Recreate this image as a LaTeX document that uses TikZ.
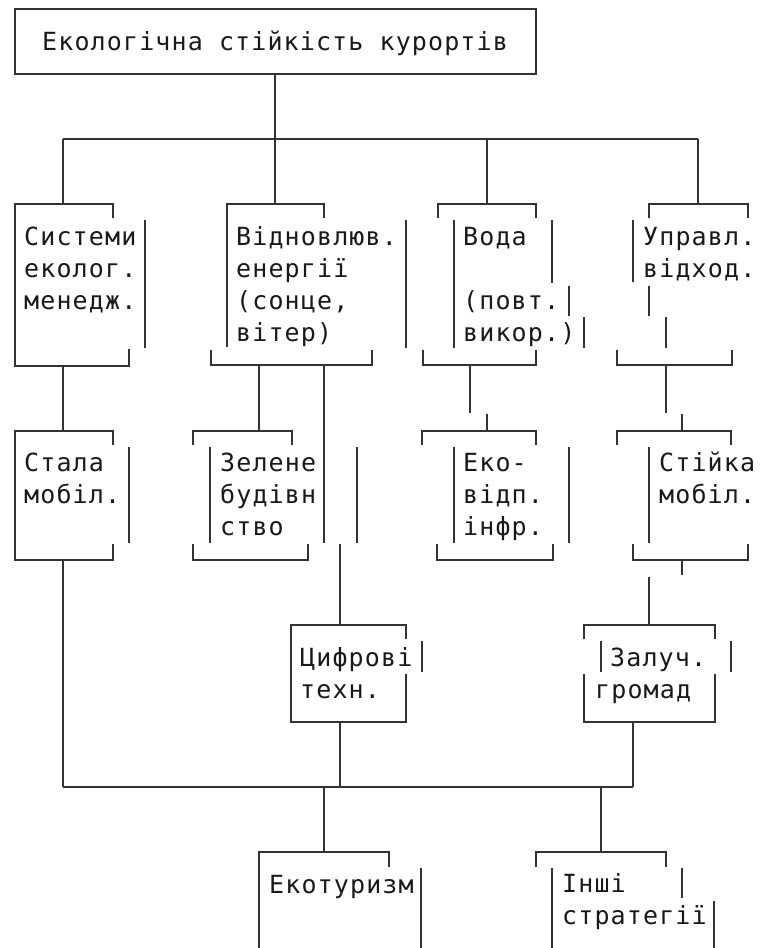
\documentclass[tikz,border=0pt]{standalone}
\usepackage{fontspec}
\usepackage{xcolor}
\usepackage{tikz}
\newfontfamily\monofont[LetterSpace=4.5]{DejaVu Sans Mono}

\begin{document}
\begin{tikzpicture}[x=1pt,y=1pt]
	\tikzstyle{every node}+=[inner sep=0pt, anchor=base west, font=\monofont\fontsize{25}{32}\selectfont, text=black!90]
	\tikzstyle{wire}=[black!80, line width=1.3pt]
	\useasboundingbox (0,0) rectangle (760,-948);
	% top
	\draw [wire] (15,-9) rectangle (536,-74);
	\draw (42,-50) node (top) {Екологічна стійкість курортів};
	\draw [wire] (275,-74) -- (275,-139);
	\draw [wire] (63,-139) -- (698,-139);
	\draw [wire] (63,-139) -- (63,-204);
	\draw [wire] (275,-139) -- (275,-204);
	\draw [wire] (487,-139) -- (487,-204);
	\draw [wire] (698,-139) -- (698,-204);
	% row 1
	\draw [wire] (113,-218) -- (113,-204) -- (15,-204) -- (15,-366) -- (129,-366) -- (129,-349);
	\draw [wire] (145,-220) -- (145,-348);
	\draw (24,-245) node (sys1) {Системи};
	\draw (24,-277) node (sys2) {еколог.};
	\draw (24,-309) node (sys3) {менедж.};
	\draw [wire] (63,-366) -- (63,-431);
	\draw [wire] (324,-218) -- (324,-204) -- (227,-204) -- (227,-347);
	\draw [wire] (406,-220) -- (406,-348);
	\draw [wire] (211,-350) -- (211,-365) -- (372,-365) -- (372,-350);
	\draw (236,-245) node (ren1) {Відновлюв.};
	\draw (236,-277) node (ren2) {енергії};
	\draw (236,-309) node (ren3) {(сонце,};
	\draw (236,-341) node (ren4) {вітер)};
	\draw [wire] (259,-365) -- (259,-431);
	\draw [wire] (324,-365) -- (324,-543);
	\draw [wire] (438,-218) -- (438,-204) -- (536,-204) -- (536,-218);
	\draw [wire] (454,-220) -- (454,-348);
	\draw [wire] (552,-220) -- (552,-283);
	\draw [wire] (569,-286) -- (569,-316);
	\draw [wire] (584,-317) -- (584,-348);
	\draw [wire] (423,-350) -- (423,-365) -- (536,-365) -- (536,-350);
	\draw (463,-245) node (wat1) {Вода};
	\draw (463,-309) node (wat2) {(повт.};
	\draw (463,-341) node (wat3) {викор.)};
	\draw [wire] (470,-365) -- (470,-413);
	\draw [wire] (487,-414) -- (487,-431);
	\draw [wire] (649,-218) -- (649,-204) -- (748,-204) -- (748,-218);
	\draw [wire] (633,-220) -- (633,-282);
	\draw [wire] (649,-286) -- (649,-316);
	\draw [wire] (666,-317) -- (666,-348);
	\draw [wire] (617,-350) -- (617,-365) -- (732,-365) -- (732,-350);
	\draw (643,-245) node (was1) {Управл.};
	\draw (643,-277) node (was2) {відход.};
	\draw [wire] (666,-365) -- (666,-413);
	\draw [wire] (682,-414) -- (682,-431);
	% row 2
	\draw [wire] (113,-445) -- (113,-431) -- (15,-431) -- (15,-560) -- (113,-560) -- (113,-544);
	\draw [wire] (129,-447) -- (129,-543);
	\draw (24,-471) node (mob1) {Стала};
	\draw (24,-503) node (mob2) {мобіл.};
	\draw [wire] (63,-560) -- (63,-787);
	\draw [wire] (193,-445) -- (193,-431) -- (292,-431) -- (292,-445);
	\draw [wire] (210,-447) -- (210,-543);
	\draw [wire] (357,-447) -- (357,-543);
	\draw [wire] (193,-544) -- (193,-560) -- (308,-560) -- (308,-544);
	\draw (220,-471) node (grn1) {Зелене};
	\draw (220,-503) node (grn2) {будівн};
	\draw (220,-535) node (grn3) {ство};
	\draw [wire] (340,-544) -- (340,-625);
	\draw [wire] (422,-445) -- (422,-431) -- (536,-431) -- (536,-445);
	\draw [wire] (454,-447) -- (454,-543);
	\draw [wire] (569,-447) -- (569,-543);
	\draw [wire] (437,-544) -- (437,-560) -- (553,-560) -- (553,-544);
	\draw (463,-471) node (inf1) {Еко-};
	\draw (463,-503) node (inf2) {відп.};
	\draw (463,-535) node (inf3) {інфр.};
	\draw [wire] (617,-445) -- (617,-431) -- (731,-431) -- (731,-445);
	\draw [wire] (649,-447) -- (649,-543);
	\draw [wire] (633,-544) -- (633,-560) -- (748,-560) -- (748,-544);
	\draw (659,-471) node (sus1) {Стійка};
	\draw (659,-503) node (sus2) {мобіл.};
	\draw [wire] (682,-560) -- (682,-575);
	\draw [wire] (649,-577) -- (649,-625);
	% row 3
	\draw [wire] (406,-639) -- (406,-625) -- (291,-625) -- (291,-722) -- (406,-722) -- (406,-674);
	\draw [wire] (422,-641) -- (422,-672);
	\draw (300,-666) node (dig1) {Цифрові};
	\draw (300,-698) node (dig2) {техн.};
	\draw [wire] (340,-722) -- (340,-787);
	\draw [wire] (584,-639) -- (584,-625) -- (715,-625) -- (715,-639);
	\draw [wire] (601,-641) -- (601,-672);
	\draw [wire] (731,-641) -- (731,-672);
	\draw [wire] (584,-674) -- (584,-722) -- (715,-722) -- (715,-674);
	\draw (610,-666) node (com1) {Залуч.};
	\draw (595,-698) node (com2) {громад};
	\draw [wire] (633,-722) -- (633,-787);
	\draw [wire] (63,-787) -- (633,-787);
	\draw [wire] (324,-787) -- (324,-852);
	\draw [wire] (601,-787) -- (601,-852);
	% row 4
	\draw [wire] (389,-867) -- (389,-852) -- (259,-852) -- (259,-948);
	\draw [wire] (421,-868) -- (421,-948);
	\draw (269,-893) node (eco) {Екотуризм};
	\draw [wire] (536,-867) -- (536,-852) -- (666,-852) -- (666,-867);
	\draw [wire] (552,-868) -- (552,-948);
	\draw [wire] (682,-868) -- (682,-898);
	\draw [wire] (714,-901) -- (714,-948);
	\draw (562,-892) node (oth1) {Інші};
	\draw (562,-924) node (oth2) {стратегії};
\end{tikzpicture}
\end{document}
